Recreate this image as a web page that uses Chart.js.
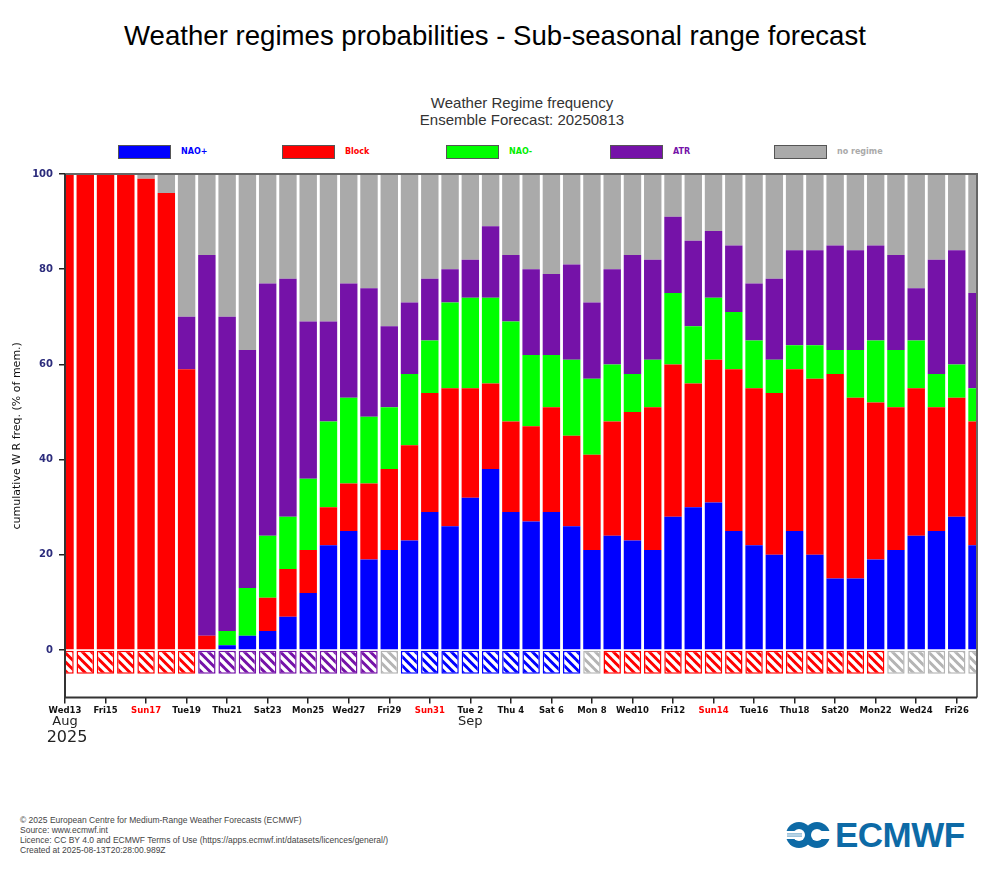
<!DOCTYPE html>
<html>
<head>
<meta charset="utf-8">
<script src="https://cdn.jsdelivr.net/npm/chart.js@4.4.1/dist/chart.umd.min.js"></script>
<style>
  html, body { margin:0; padding:0; background:#fff; }
  body { width:990px; height:891px; position:relative; overflow:hidden; font-family:"Liberation Sans", Arial, sans-serif; }
  #pageTitle { position:absolute; top:21px; left:0; width:990px; text-align:center; font-size:27.6px; color:#000; line-height:30px; }
  #chartTitle { position:absolute; top:94px; left:322px; width:400px; text-align:center; font-size:15px; line-height:17px; color:#333; }
  #chartWrap { position:absolute; top:160px; left:0; width:990px; height:600px; }
  .lg-box { position:absolute; width:51px; height:12px; border:1px solid #555; }
  .lg-txt { position:absolute; font-family:"DejaVu Sans", sans-serif; font-weight:bold; font-size:8px; line-height:10px; }
  #footer { position:absolute; left:20px; top:815px; font-size:8.5px; line-height:10px; color:#444; }
  #logo { position:absolute; left:786px; top:819px; height:32px; display:flex; align-items:center; }
  #logo span { font-family:"Liberation Sans", Arial, sans-serif; font-weight:bold; font-size:35px; color:#0d6aa6; margin-left:5px; letter-spacing:-0.5px; }
</style>
</head>
<body>
<div id="pageTitle">Weather regimes probabilities - Sub-seasonal range forecast</div>
<div id="chartTitle">Weather Regime frequency<br>Ensemble Forecast: 20250813</div>
<div id="legend"></div>
<div id="chartWrap"><canvas id="c" width="990" height="600"></canvas></div>
<div id="footer">© 2025 European Centre for Medium-Range Weather Forecasts (ECMWF)<br>Source: www.ecmwf.int<br>Licence: CC BY 4.0 and ECMWF Terms of Use (https://apps.ecmwf.int/datasets/licences/general/)<br>Created at 2025-08-13T20:28:00.989Z</div>
<div id="logo">
  <svg width="44" height="28" viewBox="0 0 44 28">
    <circle cx="13" cy="14" r="13" fill="#0d6aa6"/>
    <circle cx="31" cy="14" r="13" fill="#0d6aa6"/>
    <circle cx="13" cy="14" r="6" fill="#fff"/>
    <rect x="0" y="10" width="13" height="8" fill="#fff"/>
    <rect x="1" y="12.6" width="15" height="2.8" fill="#0d6aa6"/>
    <rect x="0" y="13.3" width="17" height="1.4" fill="#fff"/>
    <circle cx="31" cy="14" r="6" fill="#fff"/>
    <rect x="31" y="10" width="13" height="8" fill="#fff"/>
  </svg>
  <span>ECMWF</span>
</div>
<script>
// ---------------- DATA ----------------
const categories = ['Wed13','Thu14','Fri15','Sat16','Sun17','Mon18','Tue19','Wed20','Thu21','Fri22','Sat23','Sun24','Mon25','Tue26','Wed27','Thu28','Fri29','Sat30','Sun31',
  'Mon 1','Tue 2','Wed 3','Thu 4','Fri 5','Sat 6','Sun 7','Mon 8','Tue 9','Wed10','Thu11','Fri12','Sat13','Sun14','Mon15','Tue16','Wed17','Thu18','Fri19','Sat20','Sun21','Mon22','Tue23','Wed24','Thu25','Fri26','Sat27'];
const monthLabels = [{index:0, text:'Aug'}, {index:20, text:'Sep'}];
const yearLabel = {index:0, text:'2025'};
const seriesNames = ['NAO+','Block','NAO-','ATR','no regime'];
const naoPlus  = [0,0,0,0,0,0,0,0,1,3,4,7,12,22,25,19,21,23,29,26,32,38,29,27,29,26,21,24,23,21,28,30,31,25,22,20,25,20,15,15,19,21,24,25,28,22];
const block    = [100,100,100,100,99,96,59,3,0,0,7,10,9,8,10,16,17,20,25,29,23,18,19,20,22,19,20,24,27,30,32,26,30,34,33,34,34,37,43,38,33,30,31,26,25,26];
const naoMinus = [0,0,0,0,0,0,0,0,3,10,13,11,15,18,18,14,13,15,11,18,19,18,21,15,11,16,16,12,8,10,15,12,13,12,10,7,5,7,5,10,13,12,10,7,7,7];
const atr      = [0,0,0,0,0,0,11,80,66,50,53,50,33,21,24,27,17,15,13,7,8,15,14,18,17,20,16,20,25,21,16,18,14,14,12,17,20,20,22,21,20,20,11,24,24,20];
const noRegime = [0,0,0,0,1,4,30,17,30,37,23,22,31,31,23,24,32,27,22,20,18,11,17,20,21,19,27,20,17,18,9,14,12,15,23,22,16,16,15,16,15,17,24,18,16,25];
const dominantRegime = ['Block','Block','Block','Block','Block','Block','Block',
  'ATR','ATR','ATR','ATR','ATR','ATR','ATR','ATR','ATR',
  'no regime',
  'NAO+','NAO+','NAO+','NAO+','NAO+','NAO+','NAO+','NAO+','NAO+',
  'no regime',
  'Block','Block','Block','Block','Block','Block','Block','Block','Block','Block','Block','Block','Block','Block',
  'no regime','no regime','no regime','no regime','no regime'];
const dominantBandDepth = -5;
const yTicks = [0,20,40,60,80,100];
const yMin = -10, yMax = 100;
// --------------------------------------

const colors = {'NAO+':'#0000ff','Block':'#ff0000','NAO-':'#00ff00','ATR':'#7512a8','no regime':'#aaaaaa'};
const hatchColors = {'NAO+':'#0000ff','Block':'#ff0000','NAO-':'#00ff00','ATR':'#7512a8','no regime':'#b4b4b4'};
const legendText = {'NAO+':'#0000ff','Block':'#ff0000','NAO-':'#00ee00','ATR':'#7512a8','no regime':'#aaaaaa'};

// legend (HTML)
const lg = document.getElementById('legend');
seriesNames.forEach((n, i) => {
  const x = 118 + i * 164;
  const b = document.createElement('div'); b.className = 'lg-box';
  b.style.left = x + 'px'; b.style.top = '145px'; b.style.background = colors[n];
  lg.appendChild(b);
  const t = document.createElement('div'); t.className = 'lg-txt';
  t.style.left = (x + 63) + 'px'; t.style.top = '147px'; t.style.color = legendText[n];
  t.textContent = n; lg.appendChild(t);
});

function makePattern(color) {
  const p = 9;
  const c = document.createElement('canvas'); c.width = p; c.height = p;
  const g = c.getContext('2d');
  g.fillStyle = color; g.fillRect(0, 0, p, p);
  g.strokeStyle = '#ffffff'; g.lineWidth = 3.4;
  for (const k of [-p, 0, p]) { g.beginPath(); g.moveTo(-1, -1 + k); g.lineTo(p + 1, p + 1 + k); g.stroke(); }
  return g.createPattern(c, 'repeat');
}
const patterns = {};
Object.keys(hatchColors).forEach(k => patterns[k] = makePattern(hatchColors[k]));

const seriesData = [naoPlus, block, naoMinus, atr, noRegime];
const datasets = seriesNames.map((n, i) => ({
  label: n, data: seriesData[i], backgroundColor: colors[n], borderWidth: 0,
  categoryPercentage: 1, barPercentage: 0.86, clip: 0
}));
datasets.push({
  label: 'dominant', data: dominantRegime.map(() => dominantBandDepth),
  backgroundColor: dominantRegime.map(r => patterns[r]),
  borderColor: dominantRegime.map(r => hatchColors[r]),
  borderWidth: 1.5, borderSkipped: false,
  categoryPercentage: 1, barPercentage: 0.86, clip: 0
});

const framePlugin = {
  id: 'frame',
  afterDatasetsDraw(chart) {
    const {ctx, chartArea: a} = chart;
    ctx.save();
    ctx.lineWidth = 2;
    ctx.strokeStyle = '#666';
    ctx.beginPath(); ctx.moveTo(a.left, a.top); ctx.lineTo(a.right, a.top); ctx.lineTo(a.right, a.bottom); ctx.stroke();
    ctx.strokeStyle = '#333';
    ctx.beginPath(); ctx.moveTo(a.left, a.top); ctx.lineTo(a.left, a.bottom); ctx.lineTo(a.right, a.bottom); ctx.stroke();
    ctx.restore();
  },
  afterDraw(chart) {
    const {ctx} = chart; const xs = chart.scales.x;
    ctx.save();
    ctx.fillStyle = '#222'; ctx.textAlign = 'center'; ctx.textBaseline = 'middle';
    ctx.font = '13px "DejaVu Sans", sans-serif';
    monthLabels.forEach(m => ctx.fillText(m.text, xs.getPixelForValue(m.index), 562));
    ctx.font = '16px "DejaVu Sans", sans-serif';
    ctx.fillText(yearLabel.text, xs.getPixelForValue(yearLabel.index) + 2, 578);
    ctx.restore();
  }
};

new Chart(document.getElementById('c'), {
  type: 'bar',
  data: { labels: categories, datasets },
  plugins: [framePlugin],
  options: {
    responsive: false, animation: false,
    layout: { padding: { top: 14, right: 13, left: 0, bottom: 0 } },
    plugins: { legend: { display: false }, tooltip: { enabled: false }, title: { display: false } },
    scales: {
      x: {
        type: 'category', stacked: true, offset: false,
        grid: { offset: false, drawOnChartArea: false, drawTicks: true, tickLength: 6, lineWidth: 1.5,
                color: c => (c.index % 2 === 0 ? '#222' : 'rgba(0,0,0,0)') },
        border: { display: false },
        ticks: {
          autoSkip: false, maxRotation: 0, minRotation: 0, padding: 2,
          font: { family: '"DejaVu Sans", sans-serif', size: 8.5, weight: 'bold' },
          color: c => (categories[c.index] && categories[c.index].startsWith('Sun') ? '#ff0000' : '#111'),
          callback: (v, i) => (i % 2 === 0 ? categories[i] : '')
        },
        afterFit: s => { s.height = 62.4; }
      },
      y: {
        stacked: true, min: yMin, max: yMax,
        afterBuildTicks: s => { s.ticks = yTicks.map(v => ({ value: v })); },
        grid: { drawOnChartArea: false, drawTicks: true, tickLength: 6, color: '#222', lineWidth: 1.5 },
        border: { display: false },
        ticks: { padding: 6, color: '#2c2c7c', font: { family: '"DejaVu Sans", sans-serif', size: 10, weight: 'bold' } },
        title: { display: true, text: 'cumulative W R freq. (% of mem.)', color: '#111',
                 font: { family: '"DejaVu Sans", sans-serif', size: 11 }, padding: { top: 11, bottom: 0 } },
        afterFit: s => { s.width = 65; }
      }
    }
  }
});
</script>
</body>
</html>
